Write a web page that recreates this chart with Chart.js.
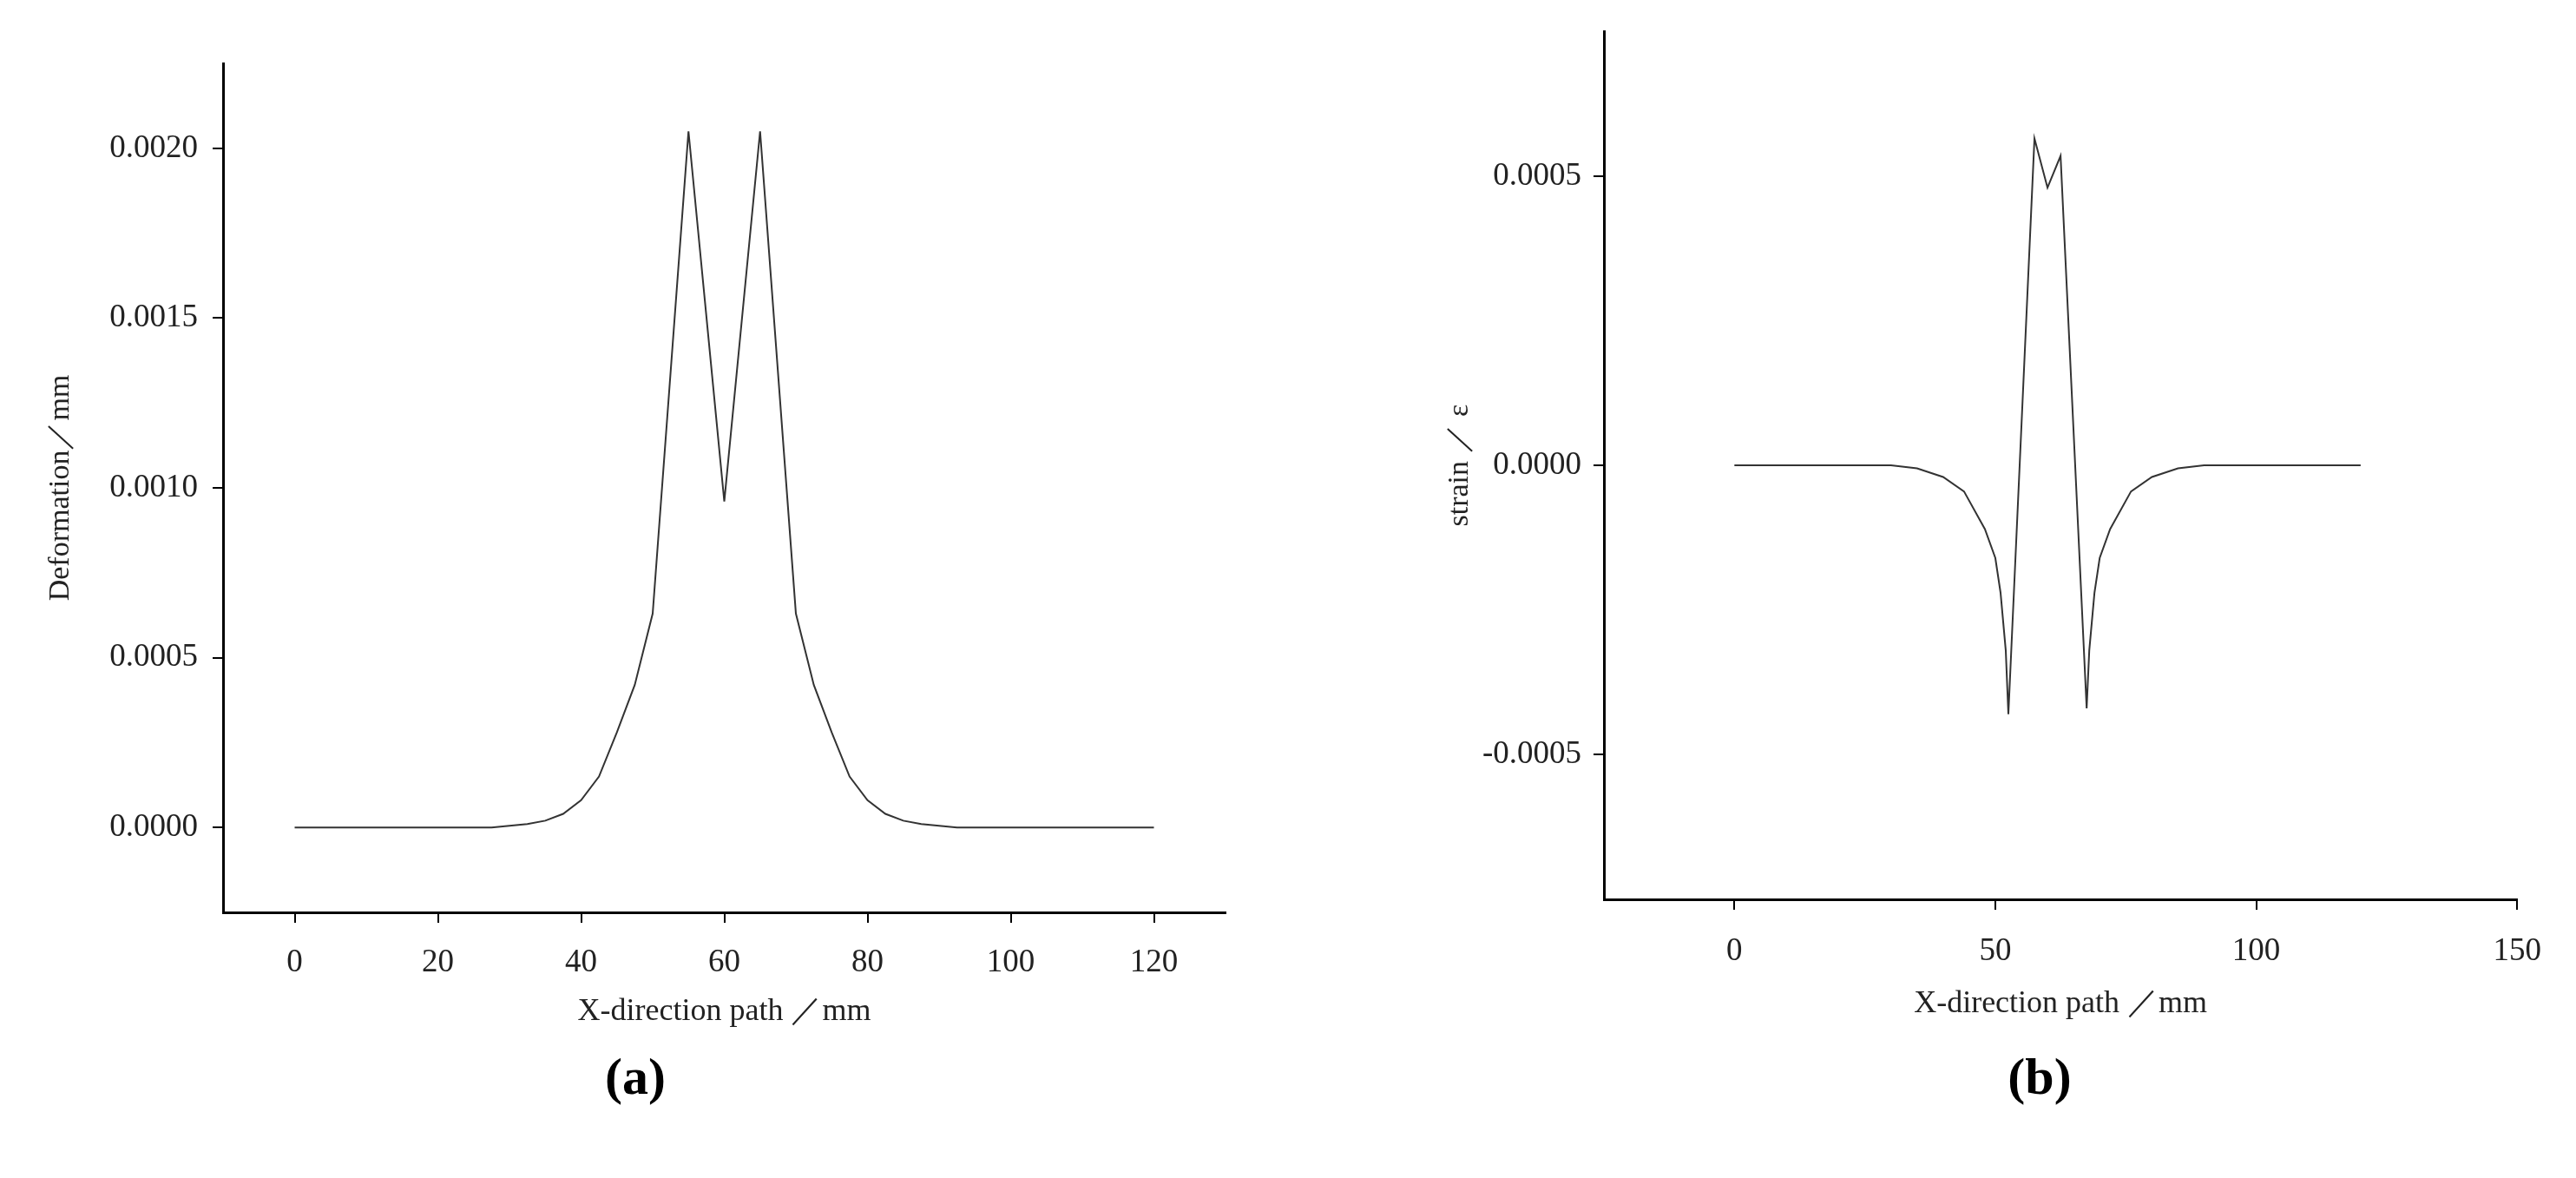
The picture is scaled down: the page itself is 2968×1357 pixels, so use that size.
<!DOCTYPE html>
<html><head><meta charset="utf-8">
<script src="https://cdn.jsdelivr.net/npm/chart.js@4"></script>
<style>
body{margin:0;background:#fff;width:2968px;height:1357px;position:relative;overflow:hidden;font-family:"Liberation Serif",serif}
.c{position:absolute;top:0}
.cap{position:absolute;top:1206px;font:bold 60px "Liberation Serif",serif;color:#000;transform:translateX(-50%)}
</style></head><body>
<div class="c" style="left:0;width:1420px;height:1200px"><canvas id="a"></canvas></div>
<div class="c" style="left:1484px;width:1470px;height:1200px"><canvas id="b"></canvas></div>
<div class="cap" style="left:732px">(a)</div>
<div class="cap" style="left:2350px">(b)</div>
<script>
const xA=[0,5,10,15,20,25,27.5,30,32.5,35,37.5,40,42.5,45,47.5,50,55,60,65,70,72.5,75,77.5,80,82.5,85,87.5,90,92.5,95,100,105,110,115,120];
const deformation=[0,0,0,0,0,0,0,0.000005,0.00001,0.00002,0.00004,0.00008,0.00015,0.00028,0.00042,0.00063,0.00205,0.00096,0.00205,0.00063,0.00042,0.00028,0.00015,0.00008,0.00004,0.00002,0.00001,0.000005,0,0,0,0,0,0,0];
const xB=[0,10,20,30,35,40,44,48,50,51,52,52.5,57.5,60,62.5,67.5,68,69,70,72,76,80,85,90,100,110,120];
const strain=[0,0,0,0,-0.000005,-0.00002,-0.000045,-0.00011,-0.00016,-0.00022,-0.00032,-0.00043,0.000565,0.00048,0.000535,-0.00042,-0.00032,-0.00022,-0.00016,-0.00011,-0.000045,-0.00002,-0.000005,0,0,0,0];
const ticksA=[0,20,40,60,80,100,120];
const ticksB=[0,50,100,150];
const ticksYA=[0,0.0005,0.001,0.0015,0.002];
const ticksYB=[-0.0005,0,0.0005];
const FONT="'Liberation Serif', serif";
function make(id,xs,ys,xr,yr,xt,yt,ytitle,o){
  new Chart(document.getElementById(id),{type:'line',
   data:{datasets:[{data:xs.map((x,i)=>({x,y:ys[i]})),borderColor:'#333',borderWidth:2,pointRadius:0,tension:0,fill:false}]},
   options:{responsive:true,maintainAspectRatio:false,animation:false,
    layout:{padding:{top:o.top,right:o.right,left:0,bottom:0}},
    plugins:{legend:{display:false},tooltip:{enabled:false}},
    scales:{
     x:{type:'linear',min:xr[0],max:xr[1],afterBuildTicks:s=>{s.ticks=xt.map(v=>({value:v}))},
        afterFit:s=>{s.height=o.xh},
        grid:{drawOnChartArea:false,tickLength:12,color:'#000',lineWidth:2},border:{color:'#000',width:3},
        ticks:{padding:o.xpad,color:'#222',font:{family:FONT,size:37},maxRotation:0},
        title:{display:true,text:'X-direction path ／mm',color:'#222',font:{family:FONT,size:36},padding:{top:0,bottom:o.xtp}}},
     y:{min:yr[0],max:yr[1],afterBuildTicks:s=>{s.ticks=yt.map(v=>({value:v}))},
        afterFit:s=>{s.width=o.yw},
        grid:{drawOnChartArea:false,tickLength:12,color:'#000',lineWidth:2},border:{color:'#000',width:3},
        ticks:{padding:o.ypad,color:'#222',font:{family:FONT,size:37},callback:v=>v.toFixed(4)},
        title:{display:true,text:ytitle,color:'#222',font:{family:FONT,size:34},padding:{top:o.ytp,bottom:0}}}
    }}});
}
make('a',xA,deformation,[-10,130],[-0.00025,0.00225],ticksA,ticksYA,'Deformation／mm',
  {top:73,right:8,xh:149,xpad:24,xtp:13,yw:257,ypad:17,ytp:50});
make('b',xB,strain,[-25,150],[-0.00075,0.00075],ticksB,ticksYB,'strain ／ ε',
  {top:26,right:0,xh:164,xpad:26,xtp:22,yw:364,ypad:14,ytp:178});
</script></body></html>
